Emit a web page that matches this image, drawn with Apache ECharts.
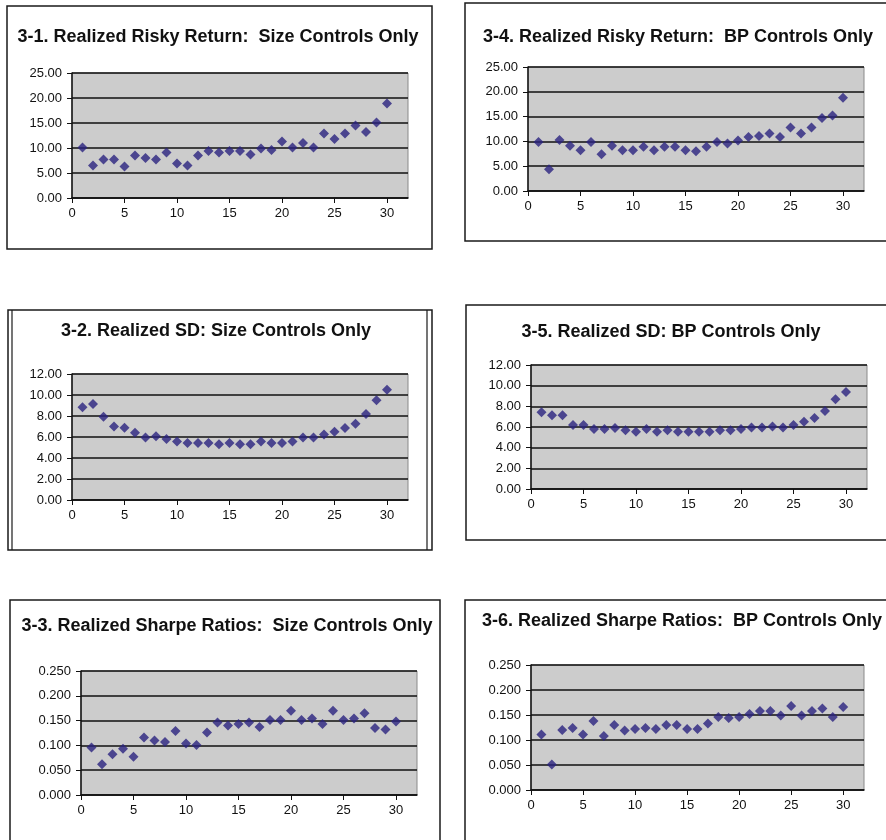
<!DOCTYPE html>
<html>
<head>
<meta charset="utf-8">
<script src="https://cdn.jsdelivr.net/npm/echarts@6/dist/echarts.min.js"></script>
<style>
    html, body { margin: 0; padding: 0; background: #fff; }
    #chart { width: 886px; height: 840px; }
</style>
</head>
<body>
<div id="chart"></div>
<script>
    // portfolio number (x axis)
    var portfolios = [1,2,3,4,5,6,7,8,9,10,11,12,13,14,15,16,17,18,19,20,21,22,23,24,25,26,27,28,29,30];
    var xTicks = [0,5,10,15,20,25,30];

    // 3-1 / 3-4 realized risky return
    var retSize = [10.1,6.5,7.7,7.7,6.3,8.5,8.0,7.7,9.1,6.9,6.5,8.5,9.4,9.1,9.4,9.4,8.7,9.9,9.6,11.3,10.1,11.0,10.1,12.9,11.8,12.9,14.5,13.2,15.1,18.9];
    var retBP   = [9.9,4.4,10.3,9.1,8.2,9.9,7.4,9.1,8.2,8.2,8.9,8.2,8.9,8.9,8.2,8.0,8.9,9.9,9.6,10.2,10.9,11.1,11.6,10.9,12.8,11.6,12.8,14.7,15.2,18.8];

    // 3-2 / 3-5 realized SD
    var sdSize = [8.83,9.15,7.94,7.0,6.88,6.4,5.95,6.08,5.82,5.57,5.44,5.44,5.44,5.31,5.44,5.31,5.31,5.57,5.44,5.44,5.57,5.95,5.95,6.24,6.5,6.85,7.26,8.19,9.5,10.5];
    var sdBP   = [7.42,7.13,7.13,6.19,6.19,5.81,5.81,5.9,5.68,5.55,5.81,5.55,5.68,5.55,5.55,5.55,5.55,5.68,5.68,5.81,5.94,5.94,6.06,5.94,6.19,6.52,6.87,7.55,8.68,9.39];

    // 3-3 / 3-6 realized sharpe ratios
    var srSize = [0.096,0.062,0.082,0.093,0.077,0.116,0.110,0.107,0.129,0.104,0.101,0.126,0.146,0.140,0.143,0.146,0.137,0.151,0.151,0.170,0.151,0.154,0.143,0.170,0.151,0.154,0.165,0.135,0.132,0.148];
    var srBP   = [0.111,0.051,0.120,0.124,0.111,0.138,0.108,0.130,0.119,0.122,0.124,0.122,0.130,0.130,0.122,0.122,0.133,0.146,0.144,0.146,0.152,0.158,0.158,0.149,0.168,0.149,0.158,0.163,0.146,0.166];

    var titles = [
        '3-1. Realized Risky Return:  Size Controls Only',
        '3-4. Realized Risky Return:  BP Controls Only',
        '3-2. Realized SD: Size Controls Only',
        '3-5. Realized SD: BP Controls Only',
        '3-3. Realized Sharpe Ratios:  Size Controls Only',
        '3-6. Realized Sharpe Ratios:  BP Controls Only'
    ];
    var seriesData = [retSize, retBP, sdSize, sdBP, srSize, srBP];
    var yMax   = [25, 25, 12, 12, 0.25, 0.25];
    var yStep  = [5, 5, 2, 2, 0.05, 0.05];
    var digits = [2, 2, 2, 2, 3, 3];

    // layout: plot area, frame box and title centre of every panel
    var grids = [
        {left: 72,  top: 73,  width: 336, height: 125},
        {left: 528, top: 67,  width: 336, height: 124},
        {left: 72,  top: 374, width: 336, height: 126},
        {left: 531, top: 365, width: 336, height: 124},
        {left: 81,  top: 671, width: 336, height: 124},
        {left: 531, top: 665, width: 333, height: 125}
    ];
    var frames = [
        [7, 6, 425, 243],
        [465, 3, 440, 238],
        [8, 310, 424, 240],
        [466, 305, 440, 235],
        [10, 600, 430, 260],
        [465, 600, 440, 260]
    ];
    var titlePos = [[218, 37], [678, 37], [216, 331], [671, 332], [227, 626], [682, 621]];

    var FONT = '"Liberation Sans", Arial, sans-serif';
    var chart = echarts.init(document.getElementById('chart'));

    var grid = [], xAxis = [], yAxis = [], series = [], graphic = [];
    for (let i = 0; i < 6; i++) {
        grid.push(Object.assign({
            show: true,
            backgroundColor: '#cccccc',
            borderColor: '#8a8a8a',
            borderWidth: 1
        }, grids[i]));
        xAxis.push({
            type: 'value',
            gridIndex: i,
            min: 0,
            max: 32,
            axisLine: {show: true, onZero: false, lineStyle: {color: '#111', width: 1.5}},
            axisTick: {show: true, length: 5, customValues: xTicks, lineStyle: {color: '#111'}},
            axisLabel: {customValues: xTicks, color: '#111', fontSize: 13, fontFamily: FONT, margin: 9},
            splitLine: {show: false}
        });
        let d = digits[i];
        yAxis.push({
            type: 'value',
            gridIndex: i,
            min: 0,
            max: yMax[i],
            interval: yStep[i],
            axisLine: {show: true, lineStyle: {color: '#111', width: 1.5}},
            axisTick: {show: true, length: 5, lineStyle: {color: '#111'}},
            axisLabel: {color: '#111', fontSize: 13, fontFamily: FONT, margin: 10,
                        formatter: function (v) { return v.toFixed(d); }},
            splitLine: {show: true, lineStyle: {color: '#111', width: 1.5}}
        });
        series.push({
            type: 'scatter',
            xAxisIndex: i,
            yAxisIndex: i,
            symbol: 'diamond',
            symbolSize: 10,
            itemStyle: {color: '#2b2380'},
            data: portfolios.map((x, k) => [x, seriesData[i][k]])
        });
        let f = frames[i];
        graphic.push({
            type: 'rect',
            shape: {x: f[0], y: f[1], width: f[2], height: f[3]},
            style: {fill: null, stroke: '#1a1a1a', lineWidth: 1.5},
            z: 0
        });
        graphic.push({
            type: 'text',
            x: titlePos[i][0],
            y: titlePos[i][1],
            style: {
                text: titles[i],
                fill: '#111',
                font: 'bold 18px ' + FONT,
                textAlign: 'center',
                textVerticalAlign: 'middle'
            }
        });
    }
    // inner double edges of panel 3-2
    graphic.push({type: 'line', shape: {x1: 12, y1: 310, x2: 12, y2: 550}, style: {stroke: '#1a1a1a', lineWidth: 1.2}});
    graphic.push({type: 'line', shape: {x1: 427, y1: 310, x2: 427, y2: 550}, style: {stroke: '#1a1a1a', lineWidth: 1.2}});

    chart.setOption({
        animation: false,
        backgroundColor: '#fff',
        grid: grid,
        xAxis: xAxis,
        yAxis: yAxis,
        series: series,
        graphic: graphic
    });
</script>
</body>
</html>
